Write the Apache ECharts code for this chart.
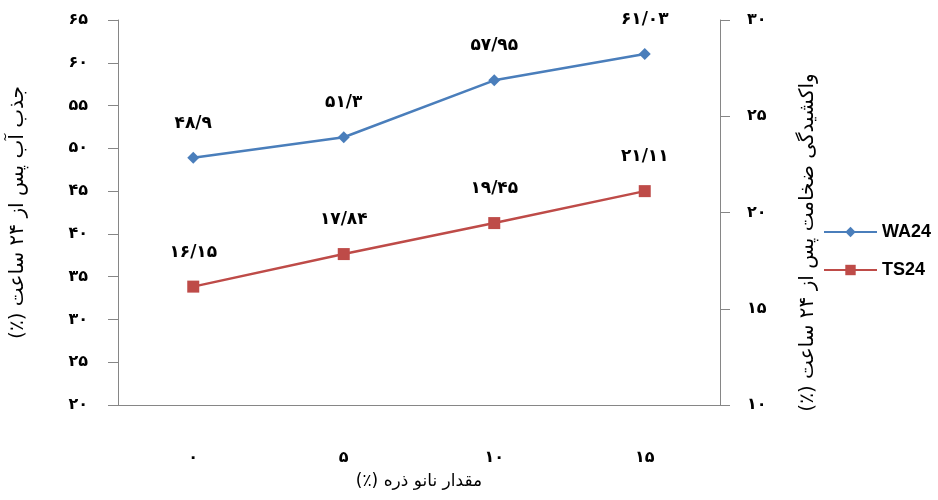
<!DOCTYPE html>
<html><head><meta charset="utf-8">
<script src="https://cdn.jsdelivr.net/npm/echarts@6/dist/echarts.min.js"></script>
<style>html,body{margin:0;padding:0;background:#fff}#c{width:938px;height:500px}</style>
</head><body><div id="c"></div>
<script>
const categories = ['۰', '۵', '۱۰', '۱۵'];
const wa24 = [48.9, 51.3, 57.95, 61.03];
const ts24 = [16.15, 17.84, 19.45, 21.11];
const leftTicks = { min: 20, max: 65, interval: 5 };
const rightTicks = { min: 10, max: 30, interval: 5 };
const RLM = '\u200F';
const xName = RLM + 'مقدار نانو ذره (٪)' + RLM;
const leftName = RLM + 'جذب آب پس از ۲۴ ساعت (٪)' + RLM;
const rightName = RLM + 'واکشیدگی ضخامت پس از ۲۴ ساعت (٪)' + RLM;

const fa = s => String(s).replace(/\d/g, d => '۰۱۲۳۴۵۶۷۸۹'[d]).replace('.', '/');
const axisColor = '#868686';
const font = 'DejaVu Sans';

const chart = echarts.init(document.getElementById('c'));
chart.setOption({
  animation: false,
  textStyle: { fontFamily: font },
  grid: { left: 113, right: 218, top: 20, bottom: 95, containLabel: false },
  legend: {
    orient: 'vertical', left: 818, top: 218, itemGap: 20,
    itemWidth: 53, itemHeight: 13,
    textStyle: { fontSize: 18, fontWeight: 'bold', color: '#000', fontFamily: 'Liberation Sans' },
    data: ['WA24', 'TS24']
  },
  xAxis: {
    type: 'category', data: categories, boundaryGap: true,
    axisLine: { lineStyle: { color: axisColor } },
    axisTick: { length: 10, lineStyle: { color: axisColor } },
    axisLabel: { margin: 45, fontSize: 16, fontWeight: 'bold', color: '#000' },
    name: xName, nameLocation: 'middle', nameGap: 68,
    nameTextStyle: { fontSize: 17, color: '#000' }
  },
  yAxis: [{
    type: 'value', position: 'left', ...leftTicks,
    splitLine: { show: false },
    axisLine: { show: true, lineStyle: { color: axisColor } },
    axisTick: { show: true, length: 10, lineStyle: { color: axisColor } },
    axisLabel: { margin: 30, fontSize: 16, fontWeight: 'bold', color: '#000', formatter: v => fa(v) },
    name: leftName, nameLocation: 'middle', nameGap: 90, nameRotate: 90,
    nameTextStyle: { fontSize: 20, color: '#000' }
  }, {
    type: 'value', position: 'right', ...rightTicks,
    splitLine: { show: false },
    axisLine: { show: true, lineStyle: { color: axisColor } },
    axisTick: { show: true, length: 10, lineStyle: { color: axisColor } },
    axisLabel: { margin: 27, fontSize: 16, fontWeight: 'bold', color: '#000', formatter: v => fa(v) },
    name: rightName, nameLocation: 'middle', nameGap: 78, nameRotate: 90,
    nameTextStyle: { fontSize: 20, color: '#000', padding: [0, 60, 0, 0] }
  }],
  series: [{
    name: 'WA24', type: 'line', yAxisIndex: 0, data: wa24,
    symbol: 'diamond', symbolSize: 12,
    lineStyle: { color: '#4A7EBB', width: 2.5 },
    itemStyle: { color: '#4A7EBB' },
    label: { show: true, position: 'top', distance: 20, fontSize: 17, fontWeight: 'bold', color: '#000', formatter: p => fa(p.value) }
  }, {
    name: 'TS24', type: 'line', yAxisIndex: 1, data: ts24,
    symbol: 'rect', symbolSize: 12,
    lineStyle: { color: '#BE4B48', width: 2.5 },
    itemStyle: { color: '#BE4B48' },
    label: { show: true, position: 'top', distance: 20, fontSize: 17, fontWeight: 'bold', color: '#000', formatter: p => fa(p.value) }
  }]
});
</script></body></html>
